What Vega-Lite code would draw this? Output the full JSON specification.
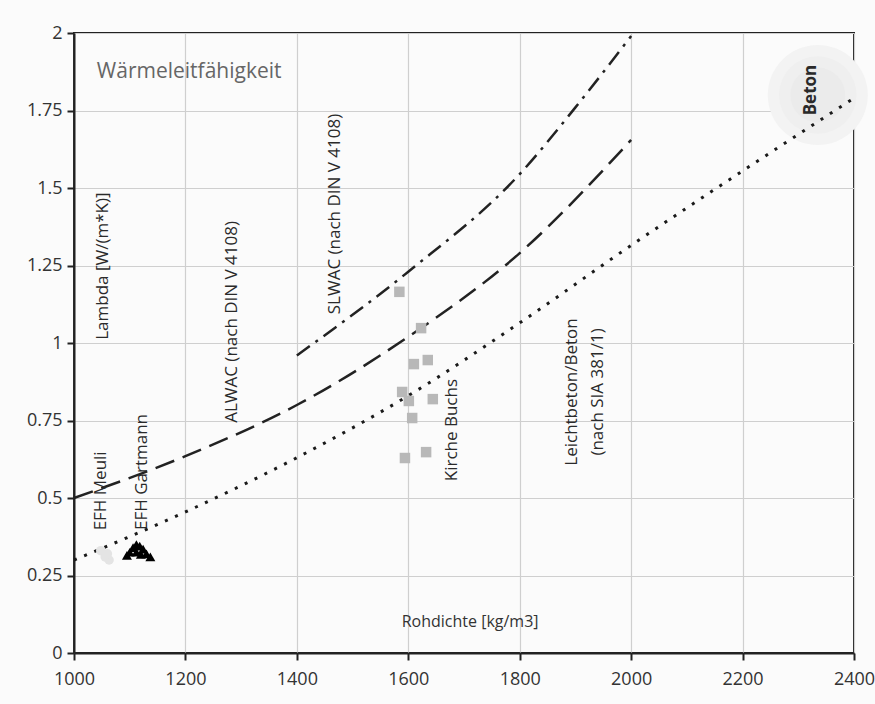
{
  "$schema": "https://vega.github.io/schema/vega-lite/v6.json",
  "width": 780,
  "height": 620,
  "autosize": {"type": "none"},
  "padding": {"left": 74, "top": 33, "right": 21, "bottom": 51},
  "background": "#fbfbfb",
  "config": {
    "view": {"stroke": "#222222", "strokeWidth": 2},
    "font": "Open Sans",
    "axis": {
      "domainColor": "#222222", "domainWidth": 2,
      "tickColor": "#222222", "tickWidth": 2, "tickSize": 7,
      "gridColor": "#cfcfcf", "gridWidth": 1.2,
      "labelFont": "Open Sans", "labelFontSize": 18, "labelColor": "#333333",
      "labelPadding": 6, "labelFlush": false, "labelOverlap": false, "title": null
    }
  },
  "datasets": {
    "curves": [
      {"serie": "Leichtbeton", "rho": 1000, "lambda": 0.30},
      {"serie": "Leichtbeton", "rho": 1200, "lambda": 0.455},
      {"serie": "Leichtbeton", "rho": 1400, "lambda": 0.63},
      {"serie": "Leichtbeton", "rho": 1600, "lambda": 0.83},
      {"serie": "Leichtbeton", "rho": 1800, "lambda": 1.065},
      {"serie": "Leichtbeton", "rho": 2000, "lambda": 1.315},
      {"serie": "Leichtbeton", "rho": 2200, "lambda": 1.555},
      {"serie": "Leichtbeton", "rho": 2400, "lambda": 1.79},
      {"serie": "ALWAC", "rho": 1000, "lambda": 0.50},
      {"serie": "ALWAC", "rho": 1200, "lambda": 0.635},
      {"serie": "ALWAC", "rho": 1400, "lambda": 0.80},
      {"serie": "ALWAC", "rho": 1600, "lambda": 1.02},
      {"serie": "ALWAC", "rho": 1800, "lambda": 1.29},
      {"serie": "ALWAC", "rho": 2000, "lambda": 1.655},
      {"serie": "SLWAC", "rho": 1400, "lambda": 0.96},
      {"serie": "SLWAC", "rho": 1600, "lambda": 1.23},
      {"serie": "SLWAC", "rho": 1800, "lambda": 1.545},
      {"serie": "SLWAC", "rho": 1900, "lambda": 1.76},
      {"serie": "SLWAC", "rho": 2000, "lambda": 1.99}
    ],
    "buchs": [
      {"rho": 1584, "lambda": 1.165},
      {"rho": 1623, "lambda": 1.048},
      {"rho": 1610, "lambda": 0.932},
      {"rho": 1635, "lambda": 0.945},
      {"rho": 1589, "lambda": 0.842},
      {"rho": 1601, "lambda": 0.813},
      {"rho": 1644, "lambda": 0.819},
      {"rho": 1607, "lambda": 0.758},
      {"rho": 1594, "lambda": 0.629},
      {"rho": 1632, "lambda": 0.648}
    ],
    "gartmann": [
      {"rho": 1095, "lambda": 0.315},
      {"rho": 1100, "lambda": 0.325},
      {"rho": 1106, "lambda": 0.34},
      {"rho": 1112, "lambda": 0.35},
      {"rho": 1118, "lambda": 0.345},
      {"rho": 1112, "lambda": 0.325},
      {"rho": 1124, "lambda": 0.335},
      {"rho": 1130, "lambda": 0.32},
      {"rho": 1137, "lambda": 0.31},
      {"rho": 1120, "lambda": 0.318}
    ],
    "meuli": [
      {"rho": 1048, "lambda": 0.33},
      {"rho": 1056, "lambda": 0.31},
      {"rho": 1063, "lambda": 0.30},
      {"rho": 1060, "lambda": 0.32}
    ],
    "glow": [
      {"rho": 2335, "lambda": 1.80}
    ],
    "labels": [
      {"rho": 1052, "lambda": 1.248, "text": "Lambda [W/(m*K)]"},
      {"rho": 1284, "lambda": 1.068, "text": "ALWAC (nach DIN V 4108)"},
      {"rho": 1468, "lambda": 1.416, "text": "SLWAC (nach DIN V 4108)"},
      {"rho": 1678, "lambda": 0.719, "text": "Kirche Buchs"},
      {"rho": 1894, "lambda": 0.842, "text": "Leichtbeton/Beton"},
      {"rho": 1940, "lambda": 0.842, "text": "(nach SIA 381/1)"},
      {"rho": 1048, "lambda": 0.523, "text": "EFH Meuli"},
      {"rho": 1122, "lambda": 0.584, "text": "EFH Gartmann"}
    ]
  },
  "encoding": {
    "x": {"field": "rho", "type": "quantitative",
      "scale": {"domain": [1000, 2400], "nice": false, "zero": false},
      "axis": {"values": [1000, 1200, 1400, 1600, 1800, 2000, 2200, 2400], "labelExpr": "'' + datum.value", "labelPadding": 10}},
    "y": {"field": "lambda", "type": "quantitative",
      "scale": {"domain": [0, 2], "nice": false},
      "axis": {"values": [0, 0.25, 0.5, 0.75, 1, 1.25, 1.5, 1.75, 2], "labelExpr": "'' + datum.value", "labelPadding": 5}}
  },
  "layer": [
    {"data": {"name": "glow"}, "mark": {"type": "point", "shape": "circle", "filled": true, "size": 10000, "color": "#f3f3f3", "opacity": 1}},
    {"data": {"name": "glow"}, "mark": {"type": "point", "shape": "circle", "filled": true, "size": 6000, "color": "#efefef", "opacity": 1}},
    {"data": {"name": "glow"}, "mark": {"type": "point", "shape": "circle", "filled": true, "size": 3000, "color": "#ebebeb", "opacity": 1}},
    {"data": {"name": "curves"}, "transform": [{"filter": "datum.serie === 'Leichtbeton'"}],
      "mark": {"type": "line", "interpolate": "monotone", "color": "#1a1a1a", "strokeWidth": 3, "strokeDash": [3, 8]}},
    {"data": {"name": "curves"}, "transform": [{"filter": "datum.serie === 'ALWAC'"}],
      "mark": {"type": "line", "interpolate": "monotone", "color": "#222222", "strokeWidth": 2.5, "strokeDash": [20, 9]}},
    {"data": {"name": "curves"}, "transform": [{"filter": "datum.serie === 'SLWAC'"}],
      "mark": {"type": "line", "interpolate": "monotone", "color": "#222222", "strokeWidth": 2.5, "strokeDash": [16, 7, 3, 7]}},
    {"data": {"name": "buchs"}, "mark": {"type": "point", "shape": "square", "filled": true, "size": 110, "color": "#b8b8b8", "opacity": 1}},
    {"data": {"name": "meuli"}, "mark": {"type": "point", "shape": "circle", "filled": true, "size": 90, "color": "#e4e4e4", "opacity": 1}},
    {"data": {"name": "gartmann"}, "mark": {"type": "point", "shape": "triangle-up", "filled": true, "size": 100, "color": "#000000", "opacity": 1}},
    {"data": {"name": "labels"}, "mark": {"type": "text", "angle": 270, "align": "center", "baseline": "middle", "fontSize": 17, "color": "#2a2a2a", "font": "Open Sans"},
      "encoding": {"text": {"field": "text", "type": "nominal"}}},
    {"data": {"values": [{"rho": 2323, "lambda": 1.816, "text": "Beton"}]}, "mark": {"type": "text", "angle": 270, "align": "center", "baseline": "middle", "fontSize": 17, "fontWeight": "bold", "color": "#2a2a2a", "font": "Open Sans"},
      "encoding": {"text": {"field": "text", "type": "nominal"}}},
    {"data": {"values": [{"rho": 1041, "lambda": 1.874, "text": "Wärmeleitfähigkeit"}]}, "mark": {"type": "text", "align": "left", "baseline": "middle", "fontSize": 21, "color": "#666666", "font": "Open Sans"},
      "encoding": {"text": {"field": "text", "type": "nominal"}}},
    {"data": {"values": [{"rho": 1711, "lambda": 0.10, "text": "Rohdichte [kg/m3]"}]}, "mark": {"type": "text", "align": "center", "baseline": "middle", "fontSize": 16, "color": "#333333", "font": "Open Sans"},
      "encoding": {"text": {"field": "text", "type": "nominal"}}}
  ]
}
